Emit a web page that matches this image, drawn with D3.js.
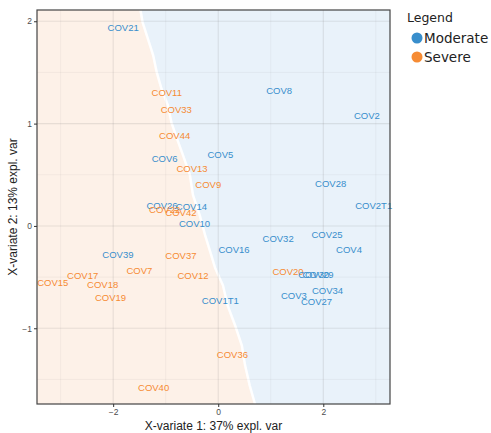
<!DOCTYPE html>
<html>
<head>
<meta charset="utf-8">
<script src="https://cdnjs.cloudflare.com/ajax/libs/d3/7.8.5/d3.min.js"></script>
<style>
  body { margin: 0; background: #fff; }
</style>
</head>
<body>
<div id="chart"></div>
<script>
// The data
var samples = ['COV21', 'COV11', 'COV33', 'COV44', 'COV6', 'COV5', 'COV13', 'COV9', 'COV26', 'COV14',
  'COV22', 'COV42', 'COV8', 'COV2', 'COV28', 'COV2T1', 'COV10', 'COV39', 'COV37', 'COV16',
  'COV7', 'COV17', 'COV12', 'COV15', 'COV18', 'COV19', 'COV1T1', 'COV36', 'COV40', 'COV32',
  'COV25', 'COV4', 'COV20', 'COV30', 'COV29', 'COV34', 'COV3', 'COV27'];
var variate1 = [-1.81, -0.98, -0.80, -0.83, -1.02, 0.04, -0.50, -0.19, -1.07, -0.51,
  -1.02, -0.71, 1.16, 2.83, 2.14, 2.96, -0.45, -1.91, -0.71, 0.30,
  -1.50, -2.58, -0.48, -3.15, -2.20, -2.05, 0.04, 0.27, -1.23, 1.14,
  2.07, 2.49, 1.33, 1.82, 1.90, 2.08, 1.44, 1.87];
var variate2 = [1.94, 1.30, 1.14, 0.88, 0.66, 0.70, 0.56, 0.40, 0.20, 0.19,
  0.16, 0.13, 1.32, 1.08, 0.41, 0.20, 0.02, -0.28, -0.29, -0.23,
  -0.44, -0.49, -0.49, -0.55, -0.57, -0.70, -0.73, -1.26, -1.58, -0.12,
  -0.09, -0.23, -0.45, -0.48, -0.48, -0.63, -0.68, -0.74];
var groups = ['Moderate', 'Severe', 'Severe', 'Severe', 'Moderate', 'Moderate', 'Severe', 'Severe', 'Moderate', 'Moderate',
  'Severe', 'Severe', 'Moderate', 'Moderate', 'Moderate', 'Moderate', 'Moderate', 'Moderate', 'Severe', 'Moderate',
  'Severe', 'Severe', 'Severe', 'Severe', 'Severe', 'Severe', 'Moderate', 'Severe', 'Severe', 'Moderate',
  'Moderate', 'Moderate', 'Severe', 'Moderate', 'Moderate', 'Moderate', 'Moderate', 'Moderate'];

// prediction background boundary (variate 1 at given variate 2)
var boundaryY = [2.11, 1.99, 1.83, 1.67, 1.50, 1.34, 1.18, 1.01, 0.86, 0.69, 0.50, 0.30, 0.10,
  -0.09, -0.29, -0.41, -0.58, -0.78, -0.97, -1.17, -1.36, -1.56, -1.74];
var boundaryX = [-1.48, -1.44, -1.34, -1.24, -1.17, -1.08, -0.96, -0.89, -0.79, -0.67, -0.54, -0.48, -0.35,
  -0.25, -0.13, -0.06, 0.09, 0.18, 0.32, 0.45, 0.51, 0.60, 0.70];

var legendLabels = ['Moderate', 'Severe'];
var xTicks = [-2, 0, 2];
var yTicks = [-1, 0, 1, 2];
var xMinor = [-3, -1, 1, 3];
var yMinor = [-1.5, -0.5, 0.5, 1.5];

var colors = { Moderate: '#388ECC', Severe: '#F68B33' };
var bgColors = { Moderate: '#e9f2fa', Severe: '#fdf1e8' };

// Chart dimensions
var margin = { top: 10, right: 101, bottom: 29, left: 37 },
    width = 491 - margin.left - margin.right,
    height = 433 - margin.top - margin.bottom;

var svg = d3.select('#chart').append('svg')
    .attr('width', 491)
    .attr('height', 433)
  .append('g')
    .attr('transform', 'translate(' + margin.left + ',' + margin.top + ')');

var x = d3.scaleLinear().domain([-3.45, 3.27]).range([0, width]);
var y = d3.scaleLinear().domain([-1.74, 2.11]).range([height, 0]);

// Background regions
var edge = boundaryY.map(function(d, i) { return [x(boundaryX[i]), y(d)]; });
var left = [[0, 0]].concat(edge).concat([[0, height]]);
var right = [[width, 0]].concat(edge).concat([[width, height]]);

svg.append('path')
    .attr('d', 'M' + left.join('L') + 'Z')
    .style('fill', bgColors.Severe);
svg.append('path')
    .attr('d', 'M' + right.join('L') + 'Z')
    .style('fill', bgColors.Moderate);
svg.append('path')
    .attr('d', d3.line()(edge))
    .style('fill', 'none')
    .style('stroke', '#fff')
    .style('stroke-width', 2.5);

// Grid lines
svg.selectAll('.xminor').data(xMinor).enter().append('line')
    .attr('x1', function(d) { return x(d); }).attr('x2', function(d) { return x(d); })
    .attr('y1', 0).attr('y2', height)
    .style('stroke', 'rgba(120,120,120,0.12)').style('stroke-width', 0.6);
svg.selectAll('.yminor').data(yMinor).enter().append('line')
    .attr('y1', function(d) { return y(d); }).attr('y2', function(d) { return y(d); })
    .attr('x1', 0).attr('x2', width)
    .style('stroke', 'rgba(120,120,120,0.12)').style('stroke-width', 0.6);
svg.selectAll('.xmajor').data(xTicks).enter().append('line')
    .attr('x1', function(d) { return x(d); }).attr('x2', function(d) { return x(d); })
    .attr('y1', 0).attr('y2', height)
    .style('stroke', 'rgba(120,120,120,0.16)').style('stroke-width', 1.1);
svg.selectAll('.ymajor').data(yTicks).enter().append('line')
    .attr('y1', function(d) { return y(d); }).attr('y2', function(d) { return y(d); })
    .attr('x1', 0).attr('x2', width)
    .style('stroke', 'rgba(120,120,120,0.16)').style('stroke-width', 1.1);

// Sample labels
svg.selectAll('.lab')
    .data(samples)
    .enter()
  .append('text')
    .attr('x', function(d, i) { return x(variate1[i]); })
    .attr('y', function(d, i) { return y(variate2[i]); })
    .attr('dy', '0.35em')
    .attr('text-anchor', 'middle')
    .style('font-family', 'Liberation Sans, Arial, sans-serif')
    .style('font-size', '9.5px')
    .style('fill', function(d, i) { return colors[groups[i]]; })
    .text(function(d) { return d; });

// Panel border
svg.append('rect')
    .attr('width', width).attr('height', height)
    .style('fill', 'none').style('stroke', '#444').style('stroke-width', 1.2);

// Axes
var xAxis = svg.append('g')
    .attr('transform', 'translate(0,' + height + ')')
    .call(d3.axisBottom(x).tickValues(xTicks).tickFormat(d3.format('d')).tickSize(3).tickPadding(2));
var yAxis = svg.append('g')
    .call(d3.axisLeft(y).tickValues(yTicks).tickFormat(d3.format('d')).tickSize(3).tickPadding(2));
[xAxis, yAxis].forEach(function(a) {
  a.select('.domain').remove();
  a.selectAll('line').style('stroke', '#333');
  a.selectAll('text')
      .style('font-family', 'Liberation Sans, Arial, sans-serif')
      .style('font-size', '8.5px')
      .style('fill', '#4d4d4d');
});

svg.append('text')
    .attr('x', width / 2)
    .attr('y', height + 26)
    .attr('text-anchor', 'middle')
    .style('font-family', 'Liberation Sans, Arial, sans-serif')
    .style('font-size', '12px')
    .style('fill', '#222')
    .text('X-variate 1: 37% expl. var');

svg.append('text')
    .attr('transform', 'translate(-20,' + (height / 2) + ') rotate(-90)')
    .attr('text-anchor', 'middle')
    .style('font-family', 'Liberation Sans, Arial, sans-serif')
    .style('font-size', '12px')
    .style('fill', '#222')
    .text('X-variate 2: 13% expl. var');

// Legend
var legend = svg.append('g')
    .attr('transform', 'translate(' + (width + 17) + ',0)');
legend.append('text')
    .attr('x', 0).attr('y', 12)
    .style('font-family', 'DejaVu Sans, sans-serif')
    .style('font-size', '12.5px')
    .style('fill', '#222')
    .text('Legend');
legend.selectAll('circle')
    .data(legendLabels)
    .enter()
  .append('circle')
    .attr('cx', 10)
    .attr('cy', function(d, i) { return 28 + i * 19; })
    .attr('r', 5.5)
    .style('fill', function(d) { return colors[d]; });
legend.selectAll('.leg')
    .data(legendLabels)
    .enter()
  .append('text')
    .attr('x', 17)
    .attr('y', function(d, i) { return 28 + i * 19; })
    .attr('dy', '0.36em')
    .style('font-family', 'DejaVu Sans, sans-serif')
    .style('font-size', '13.5px')
    .style('fill', '#222')
    .text(function(d) { return d; });
</script>
</body>
</html>
